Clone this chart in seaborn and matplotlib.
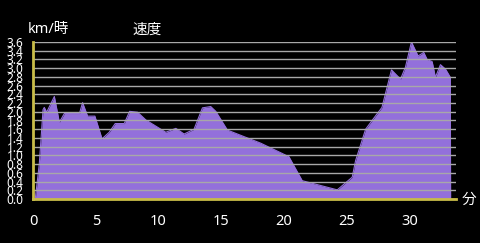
import matplotlib
matplotlib.use("Agg")
import matplotlib.pyplot as plt
import seaborn as sns
import numpy as np
import pandas as pd

# data (minutes, km/h)
minutes = [0.18, 0.5, 0.8, 0.9, 1.09, 1.7, 2.1, 2.5, 3.7, 3.95, 4.35, 4.93, 5.5, 6.07,
           6.55, 7.27, 7.7, 8.33, 9.0, 10.58, 11.38, 12.04, 12.83, 13.5, 14.16, 14.56,
           15.49, 17.08, 18.14, 20.39, 21.45, 24.24, 25.43, 25.7, 26.5, 27.3, 27.8,
           28.56, 29.28, 29.67, 30.15, 30.68, 31.13, 31.4, 31.8, 32.06, 32.46, 32.86,
           33.25, 33.27]
speed = [0.0, 0.8, 2.05, 2.1, 1.99, 2.35, 1.76, 1.96, 1.96, 2.21, 1.9, 1.9, 1.38, 1.53,
         1.73, 1.73, 2.01, 1.99, 1.81, 1.53, 1.62, 1.49, 1.6, 2.09, 2.12, 2.01,
         1.58, 1.4, 1.28, 0.97, 0.42, 0.21, 0.5, 0.88, 1.6, 1.91, 2.1,
         2.96, 2.75, 3.02, 3.6, 3.28, 3.36, 3.2, 3.15, 2.79, 3.08, 2.98,
         2.79, 0.0]
y_ticks = [round(0.2 * i, 1) for i in range(19)]
x_ticks = [0, 5, 10, 15, 20, 25, 30]
title = "速度"
y_unit = "km/時"
x_unit = "分"

df = pd.DataFrame({"min": minutes, "speed": speed})

sns.set_style("dark")
plt.rcParams['font.family'] = ['Noto Sans', 'Noto Sans CJK JP', 'DejaVu Sans']

fill_color = "#9370db"
axis_color = "#c8bc48"
grid_color = "#a8a8a8"

fig = plt.figure(figsize=(4.8, 2.43), dpi=100, facecolor="black")
ax = fig.add_axes([33 / 480, 1 - 199 / 243, (456 - 33) / 480, (199 - 42) / 243])
ax.set_facecolor("black")

sns.lineplot(data=df, x="min", y="speed", ax=ax, color=fill_color, linewidth=0.8, zorder=1)
ax.fill_between(df["min"], 0, df["speed"], color=fill_color, linewidth=0, zorder=1)

ax.set_xlim(0, 33.7)
ax.set_ylim(0, 3.6)
ax.set_xticks(x_ticks)
ax.set_xticklabels([str(t) for t in x_ticks])
ax.set_yticks(y_ticks)
ax.set_yticklabels([f"{t:.1f}" for t in y_ticks])
ax.set_xlabel("")
ax.set_ylabel("")

ax.set_axisbelow(False)
ax.yaxis.grid(True, color=grid_color, linewidth=1.0, zorder=2.5)
ax.xaxis.grid(False)

for side in ["top", "right"]:
    ax.spines[side].set_visible(False)
for side in ["left", "bottom"]:
    ax.spines[side].set_visible(True)
    ax.spines[side].set_color(axis_color)
    ax.spines[side].set_linewidth(2.0)
    ax.spines[side].set_zorder(3)

ax.tick_params(axis="y", length=0, pad=7, labelsize=8.5, colors="white")
ax.tick_params(axis="x", length=0, pad=10.5, labelsize=10.5, colors="white")
for lbl in ax.get_xticklabels():
    lbl.set_x(lbl.get_position()[0])

fig.text(28 / 480, 1 - 30 / 243, y_unit, color="white", fontsize=10.5, ha="left", va="center")
fig.text(147 / 480, 1 - 30 / 243, title, color="white", fontsize=10.5, ha="center", va="center")
fig.text(469 / 480, 1 - 200 / 243, x_unit, color="white", fontsize=10.5, ha="center", va="center")

fig.savefig("out.png", dpi=100, facecolor="black")
